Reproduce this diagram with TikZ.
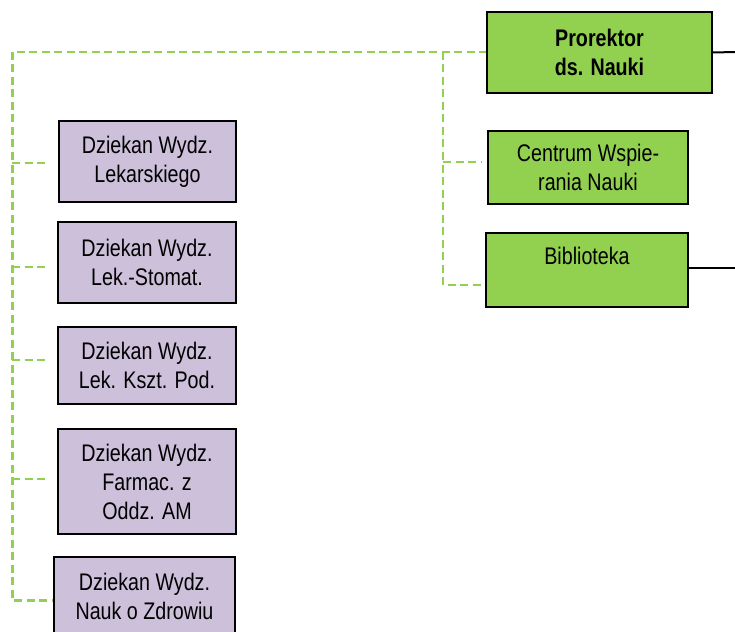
\documentclass[tikz,border=0pt]{standalone}
\usepackage{fontspec}
\setmainfont{Liberation Sans}[FakeStretch=0.82]
\definecolor{grn}{HTML}{92D050}
\definecolor{lil}{HTML}{CCC0DA}
\begin{document}
\begin{tikzpicture}[x=1pt,y=-1pt,
  box/.style={draw=black,line width=2pt,align=center,inner sep=0pt,
    font=\fontsize{24}{29}\selectfont},
  gbox/.style={box,fill=grn},
  pbox/.style={box,fill=lil},
  gdash/.style={draw=grn,line width=2.5pt,dash pattern=on 8pt off 4.5pt},
  blackline/.style={draw=black,line width=2pt}]
\useasboundingbox (0,0) rectangle (735,631);
% coordinates for dashed connectors
\coordinate (t0) at (12,52);
\coordinate (t1) at (12,600);
\coordinate (r0) at (443,52);
\coordinate (r1) at (443,285);
\coordinate (e1) at (48,163);
\coordinate (e2) at (48,267);
\coordinate (e3) at (48,360);
\coordinate (e4) at (48,479);
\coordinate (e5) at (55,600);
\coordinate (ec) at (482,162);
\coordinate (eb) at (481,285);
\coordinate (xr1) at (735,52);
\coordinate (xr2) at (735,268);
% dashed lines
\draw[gdash] (487,52) -- (t0);
\draw[gdash,line width=3pt] (t0) -- (t1) -- (e5);
\draw[gdash] (r0) -- (r1) -- (eb);
\draw[gdash] (r0 |- ec) -- (ec);
\draw[gdash] (t0 |- e1) -- (e1);
\draw[gdash] (t0 |- e2) -- (e2);
\draw[gdash] (t0 |- e3) -- (e3);
\draw[gdash] (t0 |- e4) -- (e4);
% boxes
\node[gbox,minimum width=225pt,minimum height=81pt] (P) at (599.5,52.5) {\bfseries Prorektor\\\bfseries ds. Nauki};
\node[gbox,minimum width=200pt,minimum height=73pt] (C) at (588,167.5) {Centrum Wspie-\\rania Nauki};
\node[gbox,minimum width=202pt,minimum height=74pt] (B) at (587,270) {Biblioteka\\\mbox{}};
\node[pbox,minimum width=177pt,minimum height=81pt] (L1) at (147.5,161.5) {Dziekan Wydz.\\Lekarskiego};
\node[pbox,minimum width=178pt,minimum height=81pt] (L2) at (147,262.5) {Dziekan Wydz.\\Lek.-Stomat.};
\node[pbox,minimum width=178pt,minimum height=77pt] (L3) at (147,365.5) {Dziekan Wydz.\\Lek. Kszt. Pod.};
\node[pbox,minimum width=178pt,minimum height=105pt] (L4) at (147,481.5) {Dziekan Wydz.\\Farmac. z\\Oddz. AM};
\node[pbox,minimum width=181pt,minimum height=79pt] (L5) at (144.5,596.5) {Dziekan Wydz.\\Nauk o Zdrowiu};
% solid lines to the right
\draw[blackline] (P.east) -- (xr1);
\draw[black,line width=1.5pt] (B.east |- xr2) -- (xr2);
\end{tikzpicture}
\end{document}
